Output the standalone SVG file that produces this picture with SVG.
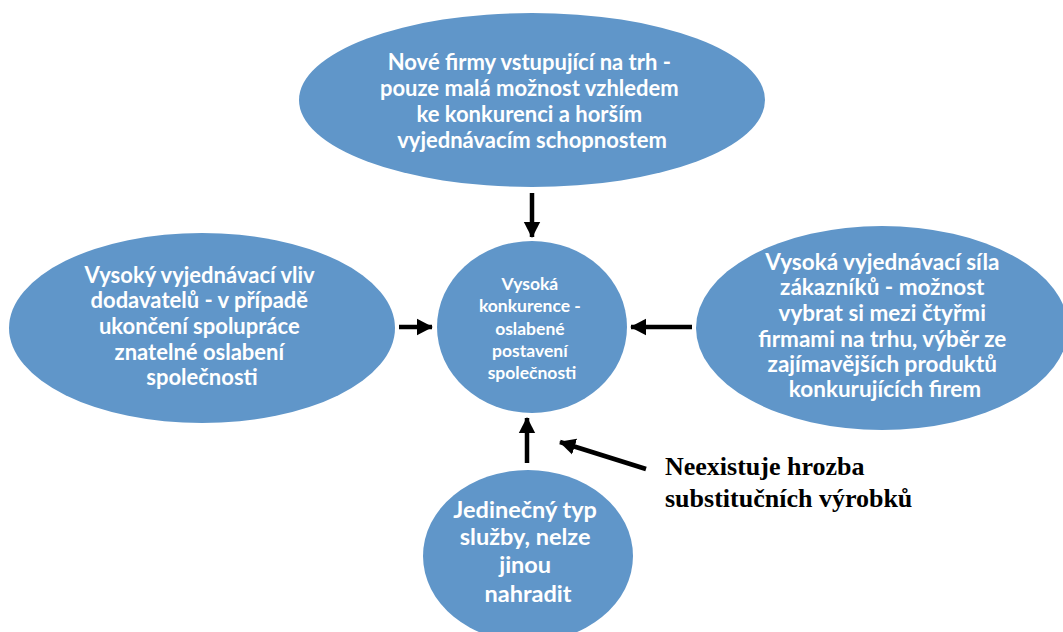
<svg xmlns="http://www.w3.org/2000/svg" width="1063" height="632" viewBox="0 0 1063 632">
  <style>
    .node { fill: #6096c9; }
    .lbl { font-family: Lato, "Open Sans", "Liberation Sans", sans-serif; font-weight: bold; fill: #ffffff; text-anchor: middle; }
    .note { font-family: "Liberation Serif", "Times New Roman", serif; font-weight: bold; fill: #000000; font-size: 26px; }
    .arrow { stroke: #000000; stroke-width: 4.5; fill: none; marker-end: url(#head); }
  </style>
  <defs>
    <marker id="head" markerWidth="4" markerHeight="4" refX="3.4" refY="2" orient="auto" markerUnits="strokeWidth">
      <path d="M0,0.15 L3.6,2 L0,3.85 Z" fill="#000000"/>
    </marker>
  </defs>
  <rect width="1063" height="632" fill="#ffffff"/>

  <!-- connectors -->
  <g id="connectors">
    <line class="arrow" x1="532" y1="193" x2="532" y2="237"/>
    <line class="arrow" x1="399" y1="327" x2="432" y2="327"/>
    <line class="arrow" x1="692" y1="327" x2="631" y2="327"/>
    <line class="arrow" x1="527" y1="463" x2="527" y2="418"/>
    <line class="arrow" x1="646" y1="469" x2="560" y2="442"/>
  </g>

  <!-- entrants -->
  <g id="node-entrants">
    <ellipse class="node" cx="532" cy="100" rx="233" ry="87"/>
    <text class="lbl" font-size="22">
      <tspan x="532" y="70">Nové firmy vstupující na trh -</tspan>
      <tspan x="532" y="96">pouze malá možnost vzhledem</tspan>
      <tspan x="532" y="122">ke konkurenci a horším</tspan>
      <tspan x="532" y="148">vyjednávacím schopnostem</tspan>
    </text>
  </g>

  <!-- suppliers -->
  <g id="node-suppliers">
    <ellipse class="node" cx="202" cy="328" rx="193" ry="95"/>
    <text class="lbl" font-size="22">
      <tspan x="202" y="283">Vysoký vyjednávací vliv</tspan>
      <tspan x="202" y="308">dodavatelů - v případě</tspan>
      <tspan x="202" y="334">ukončení spolupráce</tspan>
      <tspan x="202" y="360">znatelné oslabení</tspan>
      <tspan x="202" y="385">společnosti</tspan>
    </text>
  </g>

  <!-- rivalry -->
  <g id="node-rivalry">
    <ellipse class="node" cx="532" cy="327" rx="95" ry="86"/>
    <text class="lbl" font-size="17.5">
      <tspan x="532" y="290">Vysoká</tspan>
      <tspan x="532" y="312">konkurence -</tspan>
      <tspan x="532" y="335">oslabené</tspan>
      <tspan x="532" y="357">postavení</tspan>
      <tspan x="532" y="379">společnosti</tspan>
    </text>
  </g>

  <!-- buyers -->
  <g id="node-buyers">
    <ellipse class="node" cx="882" cy="328" rx="186" ry="102"/>
    <text class="lbl" font-size="22.5">
      <tspan x="885" y="270">Vysoká vyjednávací síla</tspan>
      <tspan x="885" y="295">zákazníků - možnost</tspan>
      <tspan x="885" y="321">vybrat si mezi čtyřmi</tspan>
      <tspan x="885" y="347">firmami na trhu, výběr ze</tspan>
      <tspan x="885" y="372">zajímavějších produktů</tspan>
      <tspan x="885" y="397">konkurujících firem</tspan>
    </text>
  </g>

  <!-- substitutes -->
  <g id="node-substitutes">
    <ellipse class="node" cx="528" cy="556" rx="105" ry="86"/>
    <text class="lbl" font-size="23.5">
      <tspan x="528" y="518">Jedinečný typ</tspan>
      <tspan x="528" y="545">služby, nelze</tspan>
      <tspan x="528" y="573">jinou</tspan>
      <tspan x="528" y="602">nahradit</tspan>
    </text>
  </g>

  <!-- note -->
  <g id="note-substitutes">
    <text class="note">
      <tspan x="665" y="475">Neexistuje hrozba</tspan>
      <tspan x="665" y="507">substitučních výrobků</tspan>
    </text>
  </g>
</svg>
